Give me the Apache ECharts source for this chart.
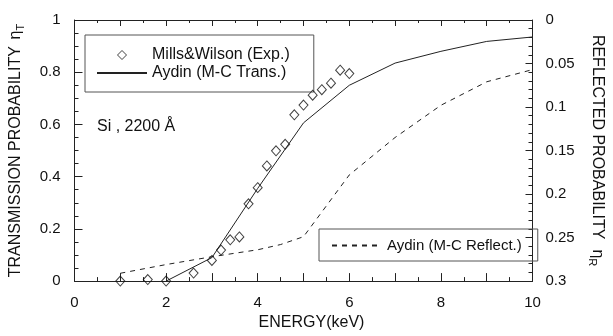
<!DOCTYPE html>
<html>
<head>
<meta charset="utf-8">
<script src="https://cdn.jsdelivr.net/npm/echarts@6/dist/echarts.min.js"></script>
<style>
  html, body { margin: 0; padding: 0; background: #fff; }
  #chart { width: 613px; height: 336px; }
</style>
</head>
<body>
<div id="chart"></div>
<script>
// Mills & Wilson experiment (diamonds)
var expEnergy = [1.0, 1.6, 2.0, 2.6, 3.0, 3.2, 3.4, 3.6, 3.8, 4.0, 4.2, 4.4, 4.6, 4.8, 5.0, 5.2, 5.4, 5.6, 5.8, 6.0];
var expTrans  = [0, 0.006, 0, 0.031, 0.079, 0.119, 0.158, 0.169, 0.296, 0.358, 0.441, 0.499, 0.524, 0.637, 0.674, 0.712, 0.733, 0.758, 0.808, 0.795];

// Aydin M-C transmission (solid)
var mcTransEnergy = [2, 3, 4, 5, 6, 7, 8, 9, 10];
var mcTrans       = [0, 0.09, 0.355, 0.606, 0.75, 0.835, 0.88, 0.918, 0.935];

// Aydin M-C reflection (dashed, right axis, inverted)
var mcReflEnergy = [1, 2, 3, 4, 4.5, 5, 6, 7, 8, 9, 10];
var mcRefl       = [0.291, 0.281, 0.272, 0.264, 0.258, 0.249, 0.178, 0.135, 0.098, 0.071, 0.057];

var xTicks = [0, 2, 4, 6, 8, 10];

function pairs(xs, ys) {
  var out = [];
  for (var i = 0; i < xs.length; i++) out.push([xs[i], ys[i]]);
  return out;
}

var FONT = '"Liberation Sans", Arial, sans-serif';
var INK = '#111';
var noSymbol = { color: 'rgba(0,0,0,0)', borderColor: 'rgba(0,0,0,0)', borderWidth: 0 };
// small diamond centred in a 50x9 box so the legend icon keeps its shape
var diamondIcon = 'path://M0,0M50,9M25,0L29.5,4.5L25,9L20.5,4.5Z';

var chart = echarts.init(document.getElementById('chart'), null, {renderer: 'canvas'});

var option = {
  animation: false,
  backgroundColor: '#fff',
  textStyle: { fontFamily: FONT, color: INK },
  title: {
    text: 'Si , 2200 Å',
    left: 97, top: 119,
    padding: 0,
    textStyle: { fontFamily: FONT, fontSize: 16, fontWeight: 'normal', color: INK }
  },
  grid: { left: 69, right: 68, top: 20, bottom: 51, containLabel: false },
  legend: [{
    data: [
      { name: 'Mills&Wilson (Exp.)', icon: diamondIcon,
        itemStyle: { color: 'rgba(0,0,0,0)', borderColor: '#111', borderWidth: 1 } },
      { name: 'Aydin (M-C Trans.)', itemStyle: noSymbol }
    ],
    orient: 'vertical',
    left: 85, top: 35,
    padding: [12, 24, 11, 11],
    itemWidth: 50, itemHeight: 9, itemGap: 2,
    borderColor: '#555', borderWidth: 1,
    textStyle: { fontFamily: FONT, fontSize: 16, color: INK },
    selectedMode: false
  }, {
    data: [{ name: 'Aydin (M-C Reflect.)', itemStyle: noSymbol }],
    orient: 'vertical',
    left: 319, top: 229,
    padding: [9, 16, 8, 12],
    itemWidth: 50, itemHeight: 9,
    borderColor: '#555', borderWidth: 1,
    textStyle: { fontFamily: FONT, fontSize: 15, color: INK },
    selectedMode: false
  }],
  xAxis: [{
    type: 'value',
    min: 0, max: 10, interval: 1,
    name: 'ENERGY(keV)',
    nameLocation: 'middle',
    nameGap: 29,
    nameTextStyle: { fontFamily: FONT, fontSize: 16, color: INK, padding: [0, 0, 0, 16] },
    axisLine: { show: true, onZero: false, lineStyle: { color: '#222', width: 1 } },
    axisTick: { show: true, inside: true, length: 8, lineStyle: { color: '#222' } },
    minorTick: { show: true, splitNumber: 2, length: 4, lineStyle: { color: '#222' } },
    axisLabel: {
      margin: 14, fontFamily: FONT, fontSize: 15, color: INK,
      formatter: function (v) { return xTicks.indexOf(v) >= 0 ? String(v) : ''; }
    },
    splitLine: { show: false }
  }, {
    type: 'value',
    position: 'top',
    min: 0, max: 10, interval: 1,
    axisLine: { show: true, onZero: false, lineStyle: { color: '#222', width: 1 } },
    axisTick: { show: true, inside: true, length: 6, lineStyle: { color: '#222' } },
    minorTick: { show: true, splitNumber: 2, length: 3, lineStyle: { color: '#222' } },
    axisLabel: { show: false },
    splitLine: { show: false }
  }],
  yAxis: [{
    type: 'value',
    min: 0, max: 1, interval: 0.2,
    name: '{a|TRANSMISSION PROBABILITY}  {b|η}{c|T}',
    nameLocation: 'middle',
    nameRotate: 90,
    nameGap: 48,
    nameTextStyle: {
      rich: {
        a: { fontFamily: FONT, fontSize: 16, color: INK },
        b: { fontFamily: FONT, fontSize: 16, color: INK },
        c: { fontFamily: FONT, fontSize: 11, color: INK, padding: [10, 0, 0, 0] }
      }
    },
    axisLine: { show: true, onZero: false, lineStyle: { color: '#222', width: 1 } },
    axisTick: { show: true, inside: true, length: 8, lineStyle: { color: '#222' } },
    minorTick: { show: true, splitNumber: 4, length: 4, lineStyle: { color: '#222' } },
    axisLabel: { margin: 14, fontFamily: FONT, fontSize: 15, color: INK },
    splitLine: { show: false }
  }, {
    type: 'value',
    position: 'right',
    min: 0, max: 0.3, interval: 0.05,
    inverse: true,
    name: '{a|REFLECTED PROBABILITY}   {b|η}{c|R}',
    nameLocation: 'middle',
    nameRotate: -90,
    nameGap: 54,
    nameTextStyle: {
      rich: {
        a: { fontFamily: FONT, fontSize: 16, color: INK },
        b: { fontFamily: FONT, fontSize: 16, color: INK },
        c: { fontFamily: FONT, fontSize: 11, color: INK, padding: [10, 0, 0, 0] }
      }
    },
    axisLine: { show: true, onZero: false, lineStyle: { color: '#222', width: 1 } },
    axisTick: { show: true, inside: true, length: 7, lineStyle: { color: '#222' } },
    minorTick: { show: true, splitNumber: 5, length: 4, lineStyle: { color: '#222' } },
    axisLabel: { margin: 13, fontFamily: FONT, fontSize: 15, color: INK },
    splitLine: { show: false }
  }],
  series: [{
    name: 'Mills&Wilson (Exp.)',
    type: 'scatter',
    xAxisIndex: 0, yAxisIndex: 0,
    symbol: 'diamond',
    symbolSize: [9, 10],
    itemStyle: { color: 'rgba(0,0,0,0)', borderColor: '#111', borderWidth: 1 },
    data: pairs(expEnergy, expTrans),
    z: 5
  }, {
    name: 'Aydin (M-C Trans.)',
    type: 'line',
    xAxisIndex: 0, yAxisIndex: 0,
    symbol: 'none',
    lineStyle: { color: '#222', width: 1, type: 'solid' },
    itemStyle: { color: '#222' },
    data: pairs(mcTransEnergy, mcTrans)
  }, {
    name: 'Aydin (M-C Reflect.)',
    type: 'line',
    xAxisIndex: 0, yAxisIndex: 1,
    symbol: 'none',
    lineStyle: { color: '#222', width: 1, type: [5, 5] },
    itemStyle: { color: '#222' },
    data: pairs(mcReflEnergy, mcRefl)
  }]
};

chart.setOption(option);
</script>
</body>
</html>
